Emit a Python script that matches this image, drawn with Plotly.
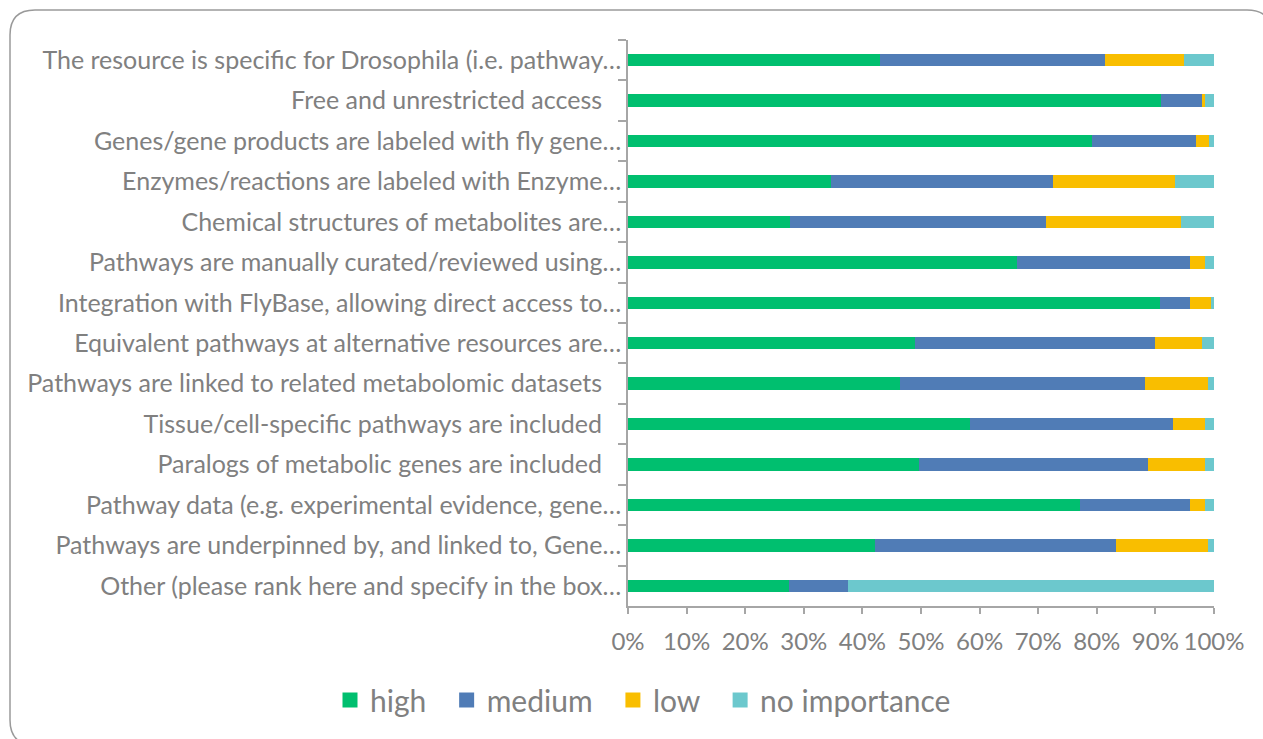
import plotly.graph_objects as go

# Survey items (top to bottom)
items = [
    "The resource is specific for Drosophila (i.e. pathway…",
    "Free and unrestricted access\u00a0\u00a0\u00a0",
    "Genes/gene products are labeled with fly gene…",
    "Enzymes/reactions are labeled with Enzyme…",
    "Chemical structures of metabolites are…",
    "Pathways are manually curated/reviewed using…",
    "Integration with FlyBase, allowing direct access to…",
    "Equivalent pathways at alternative resources are…",
    "Pathways are linked to related metabolomic datasets\u00a0\u00a0\u00a0",
    "Tissue/cell-specific pathways are included\u00a0\u00a0\u00a0",
    "Paralogs of metabolic genes are included\u00a0\u00a0\u00a0",
    "Pathway data (e.g. experimental evidence, gene…",
    "Pathways are underpinned by, and linked to, Gene…",
    "Other (please rank here and specify in the box…",
]

# Share of respondents per importance level (%)
high = [43.0, 90.9, 79.2, 34.6, 27.6, 66.4, 90.8, 49.0, 46.5, 58.3, 49.7, 77.1, 42.2, 27.5]
medium = [38.4, 7.0, 17.7, 38.0, 43.8, 29.5, 5.1, 40.9, 41.8, 34.7, 39.0, 18.8, 41.0, 10.0]
low = [13.5, 0.5, 2.2, 20.8, 23.0, 2.5, 3.6, 8.1, 10.7, 5.4, 9.7, 2.5, 15.8, 0.0]
no_importance = [5.1, 1.6, 0.9, 6.6, 5.6, 1.6, 0.5, 2.0, 1.0, 1.6, 1.6, 1.6, 1.0, 62.5]

levels = ["high", "medium", "low", "no importance"]
colors = ["#00BF6F", "#507CB6", "#F9BE00", "#6CC8CD"]
series = [high, medium, low, no_importance]

FONT = "Lato"
GREY = "#808080"
W, H = 1263, 739
L, R, T, B = 628, 49, 40, 133
PW, PH = W - L - R, H - T - B


def px(x):
    return (x - L) / PW


def py(y):
    return 1 - (y - T) / PH


fig = go.Figure()
for i, (name, vals, col) in enumerate(zip(levels, series, colors)):
    fig.add_trace(go.Bar(
        y=items, x=[v / 100 for v in vals], orientation="h", name=name,
        marker=dict(color=col, line=dict(width=0)), showlegend=False,
    ))
    # legend swatch (padded label widens the gap to the next entry)
    pad = "\u00a0\u00a0" if i < len(levels) - 1 else ""
    fig.add_trace(go.Scatter(
        x=[None], y=[None], mode="markers", name=name + pad,
        marker=dict(symbol="square", size=15, color=col),
    ))

# rounded chart frame
x0, y0, x1, y1, r = 10, 10, 1272, 745, 25
path = (
    f"M {px(x0 + r)},{py(y0)} L {px(x1 - r)},{py(y0)} "
    f"Q {px(x1)},{py(y0)} {px(x1)},{py(y0 + r)} "
    f"L {px(x1)},{py(y1 - r)} Q {px(x1)},{py(y1)} {px(x1 - r)},{py(y1)} "
    f"L {px(x0 + r)},{py(y1)} Q {px(x0)},{py(y1)} {px(x0)},{py(y1 - r)} "
    f"L {px(x0)},{py(y0 + r)} Q {px(x0)},{py(y0)} {px(x0 + r)},{py(y0)} Z"
)
fig.add_shape(type="path", path=path, xref="paper", yref="paper",
              line=dict(color="#9a9a9a", width=1.5), layer="below")

fig.update_layout(
    width=W, height=H,
    margin=dict(l=L, r=R, t=T, b=B, autoexpand=False),
    barmode="stack", bargap=0.69,
    paper_bgcolor="white", plot_bgcolor="white",
    font=dict(family=FONT, color=GREY, size=25),
    legend=dict(
        orientation="h", traceorder="normal",
        x=px(330), xanchor="left", y=py(700), yanchor="middle",
        bgcolor="rgba(0,0,0,0)",
        font=dict(size=30, color=GREY), itemclick=False,
    ),
    xaxis=dict(
        range=[0, 1], tick0=0, dtick=0.1, tickformat=".0%",
        showgrid=False, zeroline=False,
        showline=True, linecolor="#a6a6a6", linewidth=1.5,
        ticks="outside", ticklen=6, tickcolor="#a6a6a6", tickwidth=1.5,
        tickfont=dict(size=24, color=GREY), ticklabelstandoff=7,
    ),
    yaxis=dict(
        autorange="reversed", showgrid=False, zeroline=False,
        showline=True, linecolor="#a6a6a6", linewidth=1.5,
        ticks="outside", ticklen=8, tickcolor="#a6a6a6", tickwidth=1.5,
        tickson="boundaries", tickfont=dict(size=25, color=GREY),
    ),
)

fig.write_html("out.html")
